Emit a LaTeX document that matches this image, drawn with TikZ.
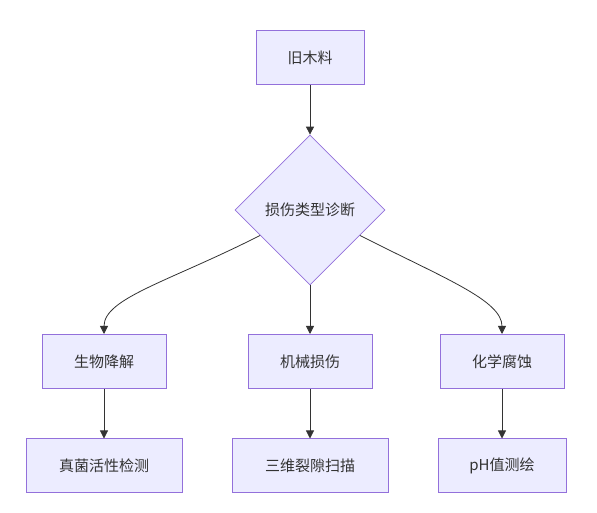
\documentclass[tikz,border=0pt]{standalone}
\usepackage{fontspec}
\setmainfont{Noto Sans CJK SC}
\usetikzlibrary{shapes.geometric,arrows.meta}
\definecolor{boxfill}{HTML}{ECECFF}
\definecolor{boxline}{HTML}{9370DB}
\definecolor{ink}{HTML}{333333}
\tikzset{
	box/.style = {draw = boxline , fill = boxfill , line width = 1pt , minimum height = 54pt , text = ink , font = \fontsize{15}{18}\selectfont},
	diag/.style = {draw = boxline , fill = boxfill , line width = 0.7pt , diamond , aspect = 1 , minimum width = 150pt , minimum height = 150pt , inner sep = 0pt , text = ink , font = \fontsize{15}{18}\selectfont},
	arr/.style = {draw = ink , line width = 0.8pt , -{Triangle[length = 8pt , width = 8pt]}}
}
\begin{document}
\begin{tikzpicture}[x = 1pt , y = 1pt]
				\useasboundingbox (0,0) rectangle (597,513);
				\node[box , minimum width = 108pt] (old) at (310,455) {旧木料};
				\node[diag] (diagnose) at (310,303) {损伤类型诊断};
				\node[box , minimum width = 124pt] (bio) at (104,151.5) {生物降解};
				\node[box , minimum width = 124pt] (mech) at (310,151.5) {机械损伤};
				\node[box , minimum width = 124pt] (chem) at (502,151.5) {化学腐蚀};
				\node[box , minimum width = 156pt] (fungi) at (104,47) {真菌活性检测};
				\node[box , minimum width = 156pt] (crack) at (310,47) {三维裂隙扫描};
				\node[box , minimum width = 128pt] (ph) at (502,47) {pH值测绘};
				\draw[arr] (old) -- (diagnose);
				\draw[arr] (diagnose) to[out = 207 , in = 90 , out looseness = 1.4 , in looseness = 0.5] (bio);
				\draw[arr] (diagnose) -- (mech);
				\draw[arr] (diagnose) to[out = -27 , in = 90 , out looseness = 1.4 , in looseness = 0.5] (chem);
				\draw[arr] (bio) -- (fungi);
				\draw[arr] (mech) -- (crack);
				\draw[arr] (chem) -- (ph);
			\end{tikzpicture}
\end{document}
